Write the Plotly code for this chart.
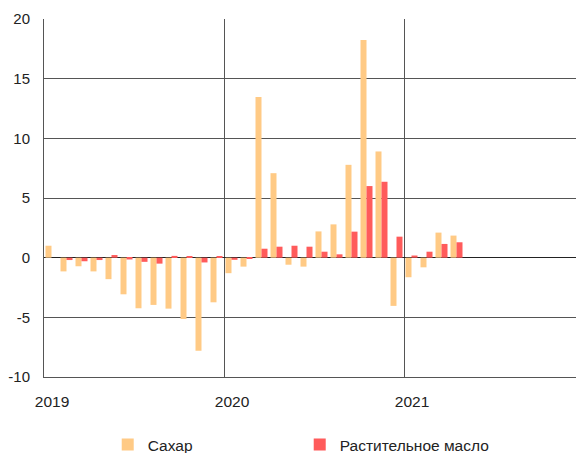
import plotly.graph_objects as go

months = list(range(28))  # Jan 2019 .. Apr 2021
sugar = [1.0, -1.15, -0.72, -1.15, -1.8, -3.07, -4.24, -3.96, -4.27, -5.14, -7.8, -3.74,
         -1.3, -0.75, 13.47, 7.08, -0.59, -0.75, 2.2, 2.79, 7.78, 18.24, 8.9, -4.04,
         -1.64, -0.81, 2.1, 1.85]
oil = [0.0, -0.2, -0.3, -0.2, 0.22, -0.15, -0.35, -0.5, 0.15, 0.1, -0.4, 0.12,
       -0.18, -0.1, 0.75, 0.92, 1.0, 0.92, 0.5, 0.28, 2.18, 6.0, 6.36, 1.76,
       0.18, 0.5, 1.15, 1.29]
year_ticks = [0, 12, 24]
year_labels = ["2019", "2020", "2021"]
y_ticks = [-10, -5, 0, 5, 10, 15, 20]
y_labels = ["-10", "-5", "0", "5", "10", "15", "20"]

xpos = [m + 0.5 for m in months]

fig = go.Figure()
fig.add_trace(go.Bar(x=xpos, y=sugar, name="Сахар", marker_color="#FFCA85",
                     marker_line_width=0))
fig.add_trace(go.Bar(x=xpos, y=oil, name="Растительное масло", marker_color="#FF5B5B",
                     marker_line_width=0))

font = dict(family="Liberation Sans, Arial, sans-serif", size=15.5, color="#222222")

fig.update_layout(
    width=576, height=445,
    margin=dict(l=36, r=0, t=11, b=76, autoexpand=False),
    paper_bgcolor="white", plot_bgcolor="white",
    barmode="group", bargap=0.2, bargroupgap=0,
    font=font,
    showlegend=True,
    legend=dict(orientation="h", x=0.118, xanchor="left", y=-0.19, yanchor="middle",
                font=font, entrywidth=147, itemwidth=30, tracegroupgap=0),
    xaxis=dict(range=[0, 36], tickvals=year_ticks, ticktext=year_labels,
               showgrid=True, gridcolor="#555555", gridwidth=1,
               showline=True, linecolor="#555555", linewidth=1,
               ticks="", ticklabelshift=8, ticklabelstandoff=10, zeroline=False,
               automargin=False),
    yaxis=dict(range=[-10, 20], tickvals=y_ticks, ticktext=y_labels,
               tickfont=dict(family="Liberation Sans, Arial, sans-serif", size=15,
                             color="#222222"),
               showgrid=True, gridcolor="#555555", gridwidth=1,
               showline=True, linecolor="#555555", linewidth=1,
               zeroline=True, zerolinecolor="#222222", zerolinewidth=1,
               ticks="", ticklabelstandoff=10, automargin=False),
)

fig.write_html("out.html")
